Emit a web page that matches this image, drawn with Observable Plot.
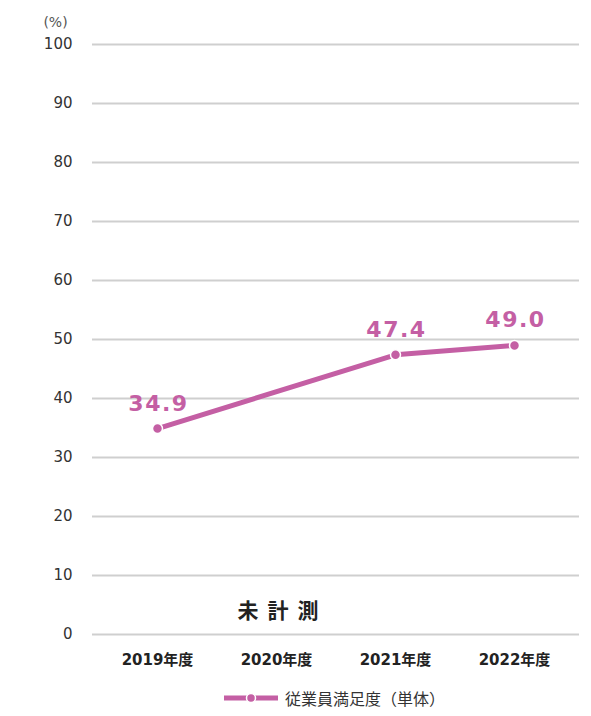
<!DOCTYPE html>
<html>
<head>
<meta charset="utf-8">
<script src="https://cdn.jsdelivr.net/npm/d3@7"></script>
<script src="https://cdn.jsdelivr.net/npm/@observablehq/plot@0.6"></script>
<style>
  html, body { margin: 0; padding: 0; background: #fff; }
  body { width: 591px; font-family: "DejaVu Sans", "Noto Sans CJK JP", sans-serif; }
  #legend { display: flex; align-items: center; justify-content: flex-start; height: 36px; padding-left: 223px; font-family: "Noto Sans CJK JP", sans-serif; font-size: 16px; color: #333; }
  #legend svg { margin-right: 6px; }
</style>
</head>
<body>
<div id="chart"></div>
<div id="legend"></div>
<script>
const years = ["2019年度", "2020年度", "2021年度", "2022年度"];
const satisfaction = [34.9, null, 47.4, 49.0];
const yTicks = [0, 10, 20, 30, 40, 50, 60, 70, 80, 90, 100];
const seriesName = "従業員満足度（単体）";
const unitLabel = "(%)";
const notMeasuredLabel = "未計測";
const notMeasuredYear = "2020年度";

const color = "#c45fa4";
const rows = years.map((year, i) => ({year, value: satisfaction[i]})).filter(d => d.value != null);

const chart = Plot.plot({
  width: 591,
  height: 680,
  marginTop: 44,
  marginBottom: 46,
  marginLeft: 92,
  marginRight: 12,
  style: {color: "#333", fontFamily: "'DejaVu Sans', 'Noto Sans CJK JP', sans-serif", background: "#fff"},
  x: {type: "point", domain: years, padding: 0.53},
  y: {domain: [0, 100]},
  marks: [
    Plot.gridY(yTicks, {stroke: "#cfcfcf", strokeOpacity: 1, strokeWidth: 2}),
    Plot.axisY(yTicks, {tickSize: 0, tickPadding: 20, fontSize: 15, label: null, tickFormat: d => String(d)}),
    Plot.axisX({tickSize: 0, tickPadding: 20, fontSize: 15, fontWeight: "bold", label: null, fill: "#222"}),
    Plot.text([unitLabel], {frameAnchor: "top-left", dx: -37, dy: -27, fontSize: 14, fill: "#555", textAnchor: "middle"}),
    Plot.line(rows, {x: "year", y: "value", stroke: color, strokeWidth: 5}),
    Plot.dot(rows, {x: "year", y: "value", r: 5, fill: color, stroke: "#fff", strokeWidth: 1.5}),
    Plot.text(rows, {x: "year", y: "value", text: d => d.value.toFixed(1), dy: -25, dx: 1, fontSize: 22, fontWeight: "bold", fill: color}),
    Plot.text([notMeasuredLabel], {x: () => notMeasuredYear, y: () => 4, dx: 6, fontSize: 21, fontWeight: "bold", fill: "#222", fontFamily: "'Noto Sans CJK JP', sans-serif"})
  ]
});
chart.querySelectorAll("text").forEach(t => {
  if (t.textContent === notMeasuredLabel) t.setAttribute("letter-spacing", "9px");
  if (/^\d+\.\d$/.test(t.textContent)) t.setAttribute("letter-spacing", "1.5px");
});
document.getElementById("chart").appendChild(chart);

const legend = document.getElementById("legend");
legend.innerHTML = `<svg width="56" height="12"><line x1="1" y1="6" x2="55" y2="6" stroke="${color}" stroke-width="5"/><circle cx="28" cy="6" r="4.5" fill="${color}" stroke="#fff" stroke-width="1.5"/></svg><span>${seriesName}</span>`;
</script>
</body>
</html>
